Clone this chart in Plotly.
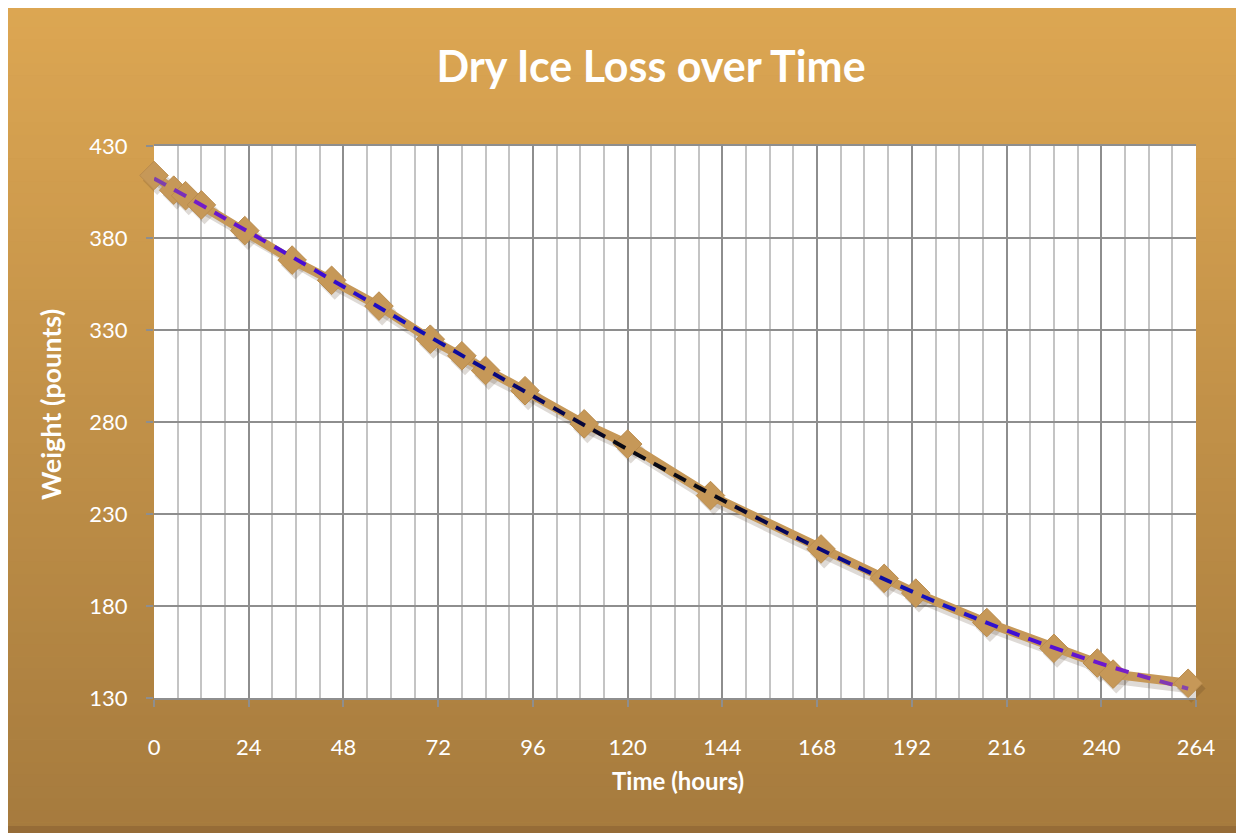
import numpy as np
import plotly.graph_objects as go

# ---- data ----
time_hours = [0, 5, 8, 12, 23, 35, 45, 57, 70, 78, 84, 94, 109, 120, 141, 169, 185, 193, 211, 228, 239, 243, 262]
weight_pounds = [414, 406, 403, 398, 384, 368, 357, 343, 325, 316, 308, 297, 279, 268, 240, 211, 195, 187, 171, 157, 149, 143, 138]
x_ticks = [0, 24, 48, 72, 96, 120, 144, 168, 192, 216, 240, 264]
y_ticks = [130, 180, 230, 280, 330, 380, 430]
x_range = [0, 264]
y_range = [130, 430]

# ---- geometry (page body has an 8px margin) ----
OFF = 8
W, H = 1244 - OFF, 833 - OFF
L, T = 154 - OFF, 146 - OFF
R = W - (1196 - OFF)
B = H - (698 - OFF)
pw, ph = W - L - R, H - T - B


def px(x):
    """screen x -> paper x"""
    return (x - OFF - L) / pw


def py(y):
    """screen y -> paper y"""
    return (H - B - (y - OFF)) / ph


fig = go.Figure()

# background gradient (chart area fill)
top = np.array([221, 167, 83])
bot = np.array([166, 123, 62])
n = 70
ya, yb = 4, 834
for i in range(n):
    a = ya + (yb - ya) * i / n
    b = ya + (yb - ya) * (i + 1) / n + 0.6
    f = (i + 0.5) / n
    c = (top + (bot - top) * f).astype(int)
    fig.add_shape(type="rect", xref="paper", yref="paper",
                  x0=px(0), x1=px(1244), y0=py(b), y1=py(a),
                  fillcolor=f"rgb({c[0]},{c[1]},{c[2]})", line_width=0, layer="below")
# darker bottom edge of the chart frame
fig.add_shape(type="rect", xref="paper", yref="paper",
              x0=px(0), x1=px(1244), y0=py(834), y1=py(826),
              fillcolor="rgb(150,108,55)", line_width=0, layer="below")
# white plot area
fig.add_shape(type="rect", xref="x domain", yref="y domain", x0=0, x1=1, y0=0, y1=1,
              fillcolor="white", line_width=0, layer="below")

# ---- shadow of series ----
sx = [t + 0.8 for t in time_hours]
sy = [w - 2.8 for w in weight_pounds]
fig.add_trace(go.Scatter(x=sx, y=sy, mode="lines+markers", cliponaxis=False,
                         line=dict(color="rgba(70,50,25,0.18)", width=10),
                         marker=dict(symbol="diamond", size=22, color="rgba(70,50,25,0.18)"),
                         hoverinfo="skip", showlegend=False))

# ---- main series ----
tan = "rgb(198,152,88)"
fig.add_trace(go.Scatter(x=time_hours, y=weight_pounds, mode="lines+markers", cliponaxis=False,
                         line=dict(color=tan, width=9),
                         marker=dict(symbol="diamond", size=22, color=tan,
                                     line=dict(color="rgb(186,140,78)", width=1)),
                         showlegend=False))

# ---- polynomial trendline, dashed with colour gradient ----
coef = np.polyfit(time_hours, weight_pounds, 3)
tt = np.linspace(min(time_hours), max(time_hours), 2000)
ww = np.polyval(coef, tt)
sxp = tt * pw / (x_range[1] - x_range[0])
syp = ww * ph / (y_range[1] - y_range[0])
seg = np.hypot(np.diff(sxp), np.diff(syp))
arc = np.concatenate([[0], np.cumsum(seg)])
total = arc[-1]

stops = [
    (0.00, (128, 70, 168)),
    (0.05, (115, 25, 205)),
    (0.15, (70, 12, 215)),
    (0.25, (20, 15, 190)),
    (0.33, (10, 10, 140)),
    (0.40, (5, 5, 80)),
    (0.46, (10, 10, 20)),
    (0.56, (10, 10, 20)),
    (0.62, (5, 5, 90)),
    (0.70, (12, 12, 150)),
    (0.78, (25, 20, 200)),
    (0.86, (75, 15, 215)),
    (0.93, (115, 25, 205)),
    (1.00, (135, 70, 170)),
]


def grad(f):
    for (f0, c0), (f1, c1) in zip(stops[:-1], stops[1:]):
        if f0 <= f <= f1:
            k = (f - f0) / (f1 - f0) if f1 > f0 else 0
            c = [int(c0[j] + (c1[j] - c0[j]) * k) for j in range(3)]
            return f"rgb({c[0]},{c[1]},{c[2]})"
    return "rgb(0,0,0)"


dash_len, gap_len = 14, 9
s = 0.0
while s < total:
    e = min(s + dash_len, total)
    m = (arc >= s) & (arc <= e)
    if m.sum() >= 2:
        fig.add_trace(go.Scatter(x=tt[m], y=ww[m], mode="lines",
                                 line=dict(color=grad((s + e) / 2 / total), width=4),
                                 hoverinfo="skip", showlegend=False))
    s += dash_len + gap_len

# ---- layout ----
tickfont = dict(family="Lato", size=22, color="white")
fig.update_layout(
    width=W, height=H,
    margin=dict(l=L, r=R, t=T, b=B),
    paper_bgcolor="rgb(200,150,75)",
    plot_bgcolor="white",
    title=dict(text="Dry Ice Loss over Time", x=(651 - OFF) / W, xanchor="center",
               y=1 - (67 - OFF) / H, yanchor="middle",
               font=dict(family="Lato", size=43, color="white", weight=700)),
    xaxis=dict(range=x_range, tickvals=x_ticks, showgrid=True, gridcolor="#8E8E8E", gridwidth=2,
               ticks="outside", ticklen=7, tickwidth=2, tickcolor="#8E8E8E",
               tickfont=tickfont, ticklabelstandoff=22,
               minor=dict(dtick=6, showgrid=True, gridcolor="#C4C4C4", gridwidth=2, ticks=""),
               zeroline=False, showline=True, linecolor="#8E8E8E", linewidth=2, mirror=True),
    yaxis=dict(range=y_range, tickvals=y_ticks, showgrid=True, gridcolor="#8E8E8E", gridwidth=2,
               ticks="outside", ticklen=7, tickwidth=2, tickcolor="#8E8E8E",
               tickfont=tickfont, ticklabelstandoff=14,
               zeroline=False, showline=False),
    annotations=[
        dict(text="Time (hours)", xref="paper", yref="paper", x=px(678), y=py(780),
             xanchor="center", yanchor="middle", showarrow=False,
             font=dict(family="Lato", size=24, color="white", weight=700)),
        dict(text="Weight (pounts)", xref="paper", yref="paper", x=px(50), y=py(405),
             xanchor="center", yanchor="middle", showarrow=False, textangle=-90,
             font=dict(family="Lato", size=27, color="white", weight=700)),
    ],
)

fig.write_html("out.html")
